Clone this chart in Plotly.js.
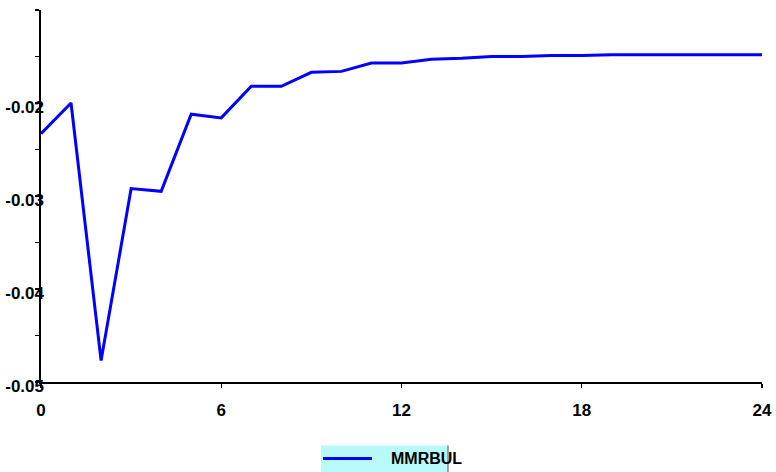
<!DOCTYPE html>
<html>
<head>
<meta charset="utf-8">
<script src="https://cdn.plot.ly/plotly-3.0.1.min.js"></script>
<style>
  html, body { margin: 0; padding: 0; background: #fff; }
  #chart { width: 776px; height: 472px; }
</style>
</head>
<body>
<div id="chart"></div>
<script>
// response path, horizons 0..24
var periods = [0, 1, 2, 3, 4, 5, 6, 7, 8, 9, 10, 11, 12, 13, 14, 15, 16, 17, 18, 19, 20, 21, 22, 23, 24];
var mmrbul = [-0.0233, -0.0200, -0.0477, -0.0292, -0.0295, -0.0212, -0.0216, -0.0182, -0.0182,
  -0.0167, -0.0166, -0.0157, -0.0157, -0.0153, -0.0152, -0.0150, -0.0150, -0.0149, -0.0149,
  -0.0148, -0.0148, -0.0148, -0.0148, -0.0148, -0.0148];
var seriesName = "MMRBUL";
var xTicks = [0, 6, 12, 18, 24];
var yTicks = [-0.05, -0.04, -0.03, -0.02];
var yTickText = ["-0.05", "-0.04", "-0.03", "-0.02"];

var tickFont = { family: "Liberation Sans, Arial, sans-serif", size: 17, color: "#000", weight: "bold" };

var data = [
  {
    type: "scatter",
    mode: "lines",
    x: periods,
    y: mmrbul,
    name: seriesName,
    line: { color: "#0000ff", width: 3 },
    showlegend: false,
    hoverinfo: "x+y"
  }
];

var layout = {
  width: 776, height: 472,
  margin: { t: 10, r: 14, l: 41, b: 90 },
  paper_bgcolor: "#fff",
  plot_bgcolor: "#fff",
  showlegend: false,
  xaxis: {
    range: [0, 24],
    tickvals: xTicks,
    ticktext: xTicks.map(String),
    ticks: "outside", ticklen: 4, tickwidth: 1.3, tickcolor: "#000",
    ticklabelstandoff: 8,
    showline: true, linecolor: "#000", linewidth: 1.6,
    showgrid: false, zeroline: false,
    tickfont: tickFont
  },
  yaxis: {
    range: [-0.05, -0.01],
    tickvals: yTicks,
    ticktext: yTickText,
    ticks: "outside", ticklen: 4, tickwidth: 1.3, tickcolor: "#000",
    ticklabelstandoff: -12,
    ticklabelshift: 4,
    minor: { tickvals: [-0.045, -0.035, -0.025, -0.015, -0.01], ticks: "outside", ticklen: 4, tickwidth: 1.3, tickcolor: "#000" },
    showline: true, linecolor: "#000", linewidth: 1.6,
    showgrid: false, zeroline: false,
    tickfont: tickFont
  },
  shapes: [
    // legend box
    { type: "rect", xref: "paper", yref: "paper", x0: 0.3883, x1: 0.5645, y0: -0.26, y1: -0.1706,
      fillcolor: "#b8fafa", line: { width: 0 }, layer: "below" },
    { type: "line", xref: "paper", yref: "paper", x0: 0.5645, x1: 0.5645, y0: -0.26, y1: -0.1706,
      line: { color: "#555", width: 1 } },
    // legend sample
    { type: "line", xref: "paper", yref: "paper", x0: 0.3911, x1: 0.4591, y0: -0.2055, y1: -0.2055,
      line: { color: "#0000ff", width: 3 } }
  ],
  annotations: [
    { xref: "paper", yref: "paper", x: 0.4827, y: -0.2055, xanchor: "left", yanchor: "middle",
      text: "<b>" + seriesName + "</b>", showarrow: false,
      font: { family: "Liberation Sans, Arial, sans-serif", size: 16, color: "#000" } }
  ]
};

Plotly.newPlot("chart", data, layout, { displayModeBar: false, staticPlot: true });
</script>
</body>
</html>
